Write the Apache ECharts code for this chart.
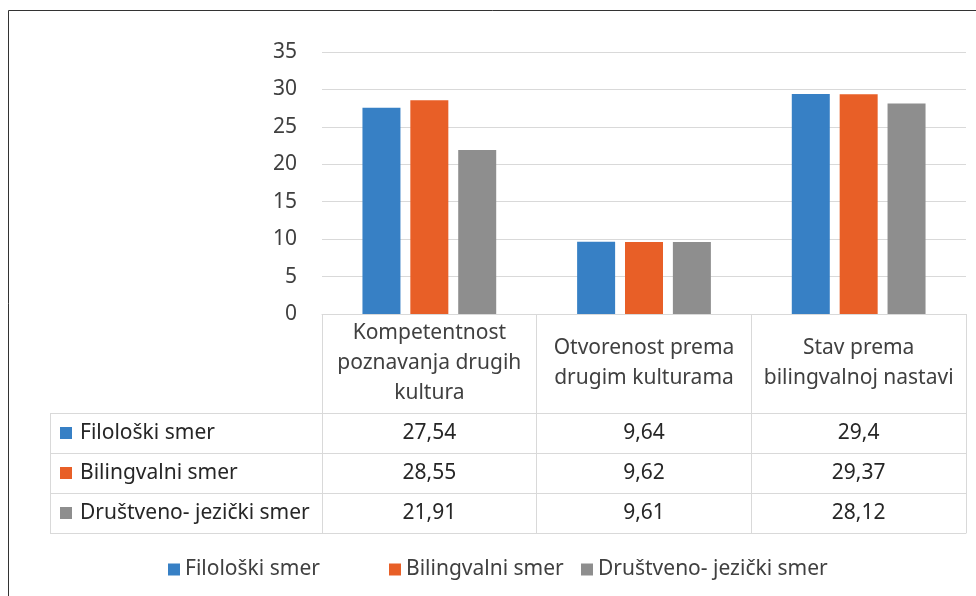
<!DOCTYPE html>
<html><head><meta charset="utf-8">
<script src="https://cdn.jsdelivr.net/npm/echarts@6/dist/echarts.min.js"></script>
<style>html,body{margin:0;padding:0;background:#fff}#c{width:976px;height:596px}</style>
</head><body><div id="c"></div>
<script>
const categories = ['Kompetentnost\npoznavanja drugih\nkultura', 'Otvorenost prema\ndrugim kulturama', 'Stav prema\nbilingvalnoj nastavi'];
const seriesNames = ['Filološki smer', 'Bilingvalni smer', 'Društveno- jezički smer'];
const filoloski = [27.54, 9.64, 29.4];
const bilingvalni = [28.55, 9.62, 29.37];
const drustveno = [21.91, 9.61, 28.12];
const yMin = 0, yMax = 35, yStep = 5;

const values = [filoloski, bilingvalni, drustveno];
const colors = ['#3780c5', '#e85f27', '#8e8e8e'];
const FONT = 'Noto Sans';
const FS = 21;
const fmt = v => String(v).replace('.', ',');

const gridTop = 52, gridBottomY = 314, gridLeft = 322, gridRight = 966;
const headerH = 99, rowH = 40;
const tableLeft = 50;
const legendLefts = [168, 389, 581];

const xAxes = [{
  type: 'category', data: categories, gridIndex: 0, position: 'bottom',
  axisLine: {show: true, lineStyle: {color: '#d9d9d9', width: 1}},
  axisTick: {show: true, interval: 0, alignWithLabel: false, inside: false, length: headerH + rowH * 3, lineStyle: {color: '#d9d9d9'}},
  axisLabel: {interval: 0, hideOverlap: false, fontFamily: FONT, fontSize: FS, color: '#404040', lineHeight: 30, verticalAlign: 'middle', margin: headerH / 2, align: 'center'}
}];
values.forEach((vals, k) => {
  xAxes.push({
    type: 'category', data: categories, gridIndex: 0, position: 'bottom', offset: headerH + rowH * k,
    axisLine: {show: true, lineStyle: {color: '#d9d9d9', width: 1}},
    axisTick: {show: false},
    axisLabel: {interval: 0, fontFamily: FONT, fontSize: FS, color: '#262626', verticalAlign: 'middle', margin: rowH / 2,
      formatter: (val, idx) => fmt(vals[idx])}
  });
});
xAxes.push({
  type: 'category', data: categories, gridIndex: 0, position: 'bottom', offset: headerH + rowH * 3,
  axisLine: {show: true, lineStyle: {color: '#d9d9d9', width: 1}},
  axisTick: {show: false}, axisLabel: {show: false}
});

const graphics = [
  {type: 'rect', shape: {x: 8.5, y: 10.5, width: 1000, height: 700}, style: {fill: 'none', stroke: '#333', lineWidth: 1}, silent: true},
  {type: 'line', shape: {x1: tableLeft + 0.5, y1: gridBottomY + headerH, x2: tableLeft + 0.5, y2: gridBottomY + headerH + rowH * 3}, style: {stroke: '#d9d9d9', lineWidth: 1}}
];
for (let i = 0; i <= 3; i++) {
  const y = gridBottomY + headerH + rowH * i + 0.5;
  graphics.push({type: 'line', shape: {x1: tableLeft, y1: y, x2: gridLeft, y2: y}, style: {stroke: '#d9d9d9', lineWidth: 1}});
}
seriesNames.forEach((n, k) => {
  const cy = gridBottomY + headerH + rowH * k + rowH / 2;
  graphics.push({type: 'rect', shape: {x: 60, y: cy - 6, width: 12, height: 12}, style: {fill: colors[k]}});
  graphics.push({type: 'text', x: 80, y: cy, style: {text: n, font: FS + 'px "' + FONT + '"', fill: '#262626', verticalAlign: 'middle', align: 'left'}});
});

const chart = echarts.init(document.getElementById('c'));
chart.setOption({
  animation: false,
  color: colors,
  textStyle: {fontFamily: FONT},
  grid: {left: gridLeft, right: 976 - gridRight, top: gridTop, bottom: 596 - gridBottomY, containLabel: false},
  legend: seriesNames.map((n, k) => ({
    data: [n], left: legendLefts[k] - 5, top: 554, icon: 'rect', itemWidth: 12, itemHeight: 12,
    textStyle: {fontFamily: FONT, fontSize: FS, color: '#404040'}
  })),
  xAxis: xAxes,
  yAxis: {
    type: 'value', min: yMin, max: yMax, interval: yStep,
    axisLine: {show: false}, axisTick: {show: false},
    splitLine: {lineStyle: {color: '#d9d9d9', width: 1}},
    axisLabel: {fontFamily: FONT, fontSize: FS, color: '#404040', margin: 25}
  },
  series: seriesNames.map((n, k) => ({
    name: n, type: 'bar', data: values[k], xAxisIndex: 0,
    barWidth: 38, barGap: '26%', itemStyle: {color: colors[k]}
  })),
  graphic: graphics
});
</script></body></html>
